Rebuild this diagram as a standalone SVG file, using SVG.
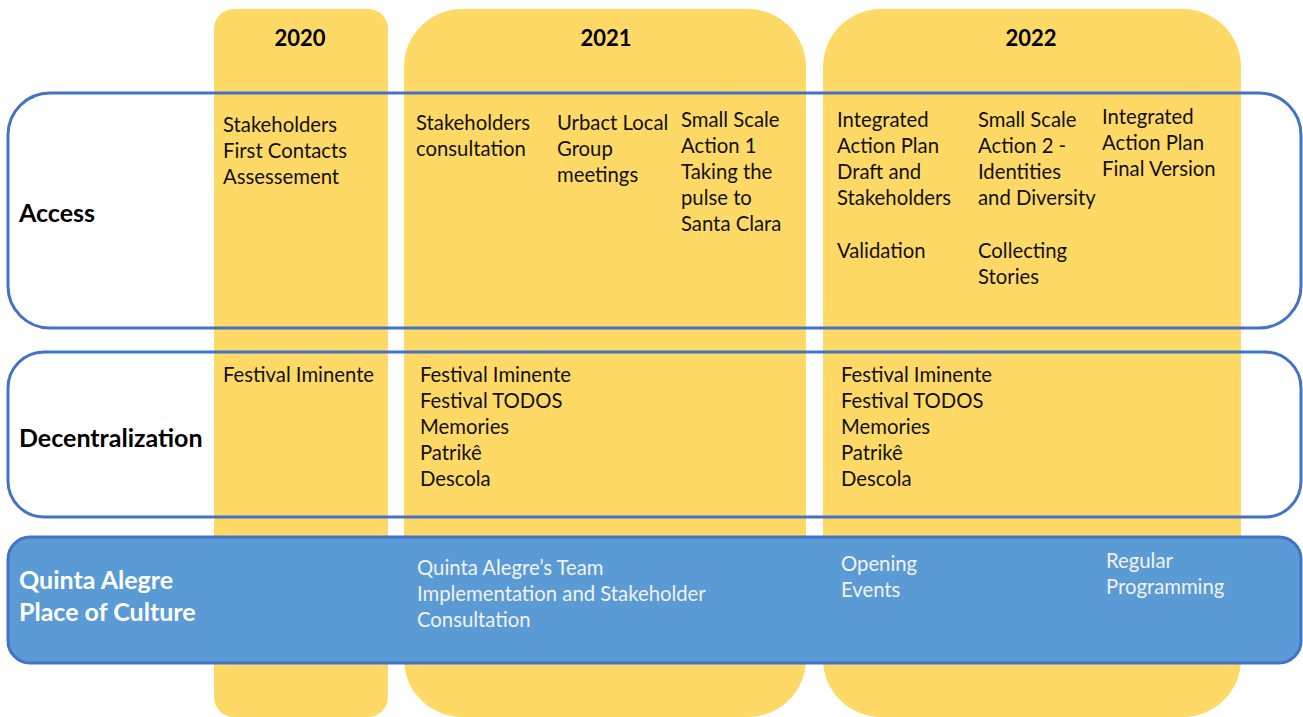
<svg xmlns="http://www.w3.org/2000/svg" width="1303" height="717" viewBox="0 0 1303 717">
  <style>
    .year { fill: #FFD966; }
    .yl { font-family: Lato, "Liberation Sans", sans-serif; font-weight: bold; font-size: 22px; fill: #000; text-anchor: middle; }
    .lane { fill: none; stroke: #4472C4; stroke-width: 3; }
    .lanefill { fill: #5B9BD5; stroke: #4472C4; stroke-width: 3; }
    .ll { font-family: Lato, "Liberation Sans", sans-serif; font-weight: bold; font-size: 25px; fill: #000; }
    .llw { font-family: Lato, "Liberation Sans", sans-serif; font-weight: bold; font-size: 25px; fill: #fff; }
    .t { font-family: Lato, "Liberation Sans", sans-serif; font-size: 20.3px; fill: #111; }
    .tw { font-family: Lato, "Liberation Sans", sans-serif; font-size: 20.3px; fill: #f2f2f2; }
  </style>
  <rect width="1303" height="717" fill="#fff"/>

  <!-- year columns -->
  <g id="col-2020">
    <rect class="year" x="214" y="9" width="174" height="708" rx="20"/>
    <text class="yl" x="300" y="46">2020</text>
  </g>
  <g id="col-2021">
    <rect class="year" x="404" y="9" width="402" height="708" rx="58"/>
    <text class="yl" x="606" y="46">2021</text>
  </g>
  <g id="col-2022">
    <rect class="year" x="823" y="9" width="418" height="708" rx="58"/>
    <text class="yl" x="1031" y="46">2022</text>
  </g>

  <!-- swimlanes -->
  <g id="lane-access">
    <rect class="lane" x="8" y="93" width="1293" height="235" rx="42"/>
    <text class="ll" x="19" y="222">Access</text>
  </g>
  <g id="lane-decentralization">
    <rect class="lane" x="8" y="352" width="1293" height="165" rx="36"/>
    <text class="ll" x="19" y="447">Decentralization</text>
  </g>
  <g id="lane-quinta">
    <rect class="lanefill" x="8" y="537" width="1293" height="126" rx="22"/>
    <text class="llw" x="19" y="589">Quinta Alegre</text>
    <text class="llw" x="19" y="621">Place of Culture</text>
  </g>

  <!-- access activities -->
  <g id="access-2020">
    <text class="t" x="223" y="132">Stakeholders</text>
    <text class="t" x="223" y="158">First Contacts</text>
    <text class="t" x="223" y="184">Assessement</text>
  </g>
  <g id="access-2021-a">
    <text class="t" x="416" y="130">Stakeholders</text>
    <text class="t" x="416" y="156">consultation</text>
  </g>
  <g id="access-2021-b">
    <text class="t" x="557" y="130">Urbact Local</text>
    <text class="t" x="557" y="156">Group</text>
    <text class="t" x="557" y="182">meetings</text>
  </g>
  <g id="access-2021-c">
    <text class="t" x="681" y="127">Small Scale</text>
    <text class="t" x="681" y="153">Action 1</text>
    <text class="t" x="681" y="179">Taking the</text>
    <text class="t" x="681" y="205">pulse to</text>
    <text class="t" x="681" y="231">Santa Clara</text>
  </g>
  <g id="access-2022-a">
    <text class="t" x="837" y="127">Integrated</text>
    <text class="t" x="837" y="153">Action Plan</text>
    <text class="t" x="837" y="179">Draft and</text>
    <text class="t" x="837" y="205">Stakeholders</text>
    <text class="t" x="837" y="258">Validation</text>
  </g>
  <g id="access-2022-b">
    <text class="t" x="978" y="127">Small Scale</text>
    <text class="t" x="978" y="153">Action 2 -</text>
    <text class="t" x="978" y="179">Identities</text>
    <text class="t" x="978" y="205">and Diversity</text>
    <text class="t" x="978" y="258">Collecting</text>
    <text class="t" x="978" y="284">Stories</text>
  </g>
  <g id="access-2022-c">
    <text class="t" x="1102" y="124">Integrated</text>
    <text class="t" x="1102" y="150">Action Plan</text>
    <text class="t" x="1102" y="176">Final Version</text>
  </g>

  <!-- decentralization activities -->
  <g id="dec-2020">
    <text class="t" x="223" y="382">Festival Iminente</text>
  </g>
  <g id="dec-2021">
    <text class="t" x="420" y="382">Festival Iminente</text>
    <text class="t" x="420" y="408">Festival TODOS</text>
    <text class="t" x="420" y="434">Memories</text>
    <text class="t" x="420" y="460">Patrikê</text>
    <text class="t" x="420" y="486">Descola</text>
  </g>
  <g id="dec-2022">
    <text class="t" x="841" y="382">Festival Iminente</text>
    <text class="t" x="841" y="408">Festival TODOS</text>
    <text class="t" x="841" y="434">Memories</text>
    <text class="t" x="841" y="460">Patrikê</text>
    <text class="t" x="841" y="486">Descola</text>
  </g>

  <!-- place of culture activities -->
  <g id="quinta-2021">
    <text class="tw" x="417" y="575">Quinta Alegre’s Team</text>
    <text class="tw" x="417" y="601">Implementation and Stakeholder</text>
    <text class="tw" x="417" y="627">Consultation</text>
  </g>
  <g id="quinta-2022-a">
    <text class="tw" x="841" y="571">Opening</text>
    <text class="tw" x="841" y="597">Events</text>
  </g>
  <g id="quinta-2022-b">
    <text class="tw" x="1106" y="568">Regular</text>
    <text class="tw" x="1106" y="594">Programming</text>
  </g>
</svg>
